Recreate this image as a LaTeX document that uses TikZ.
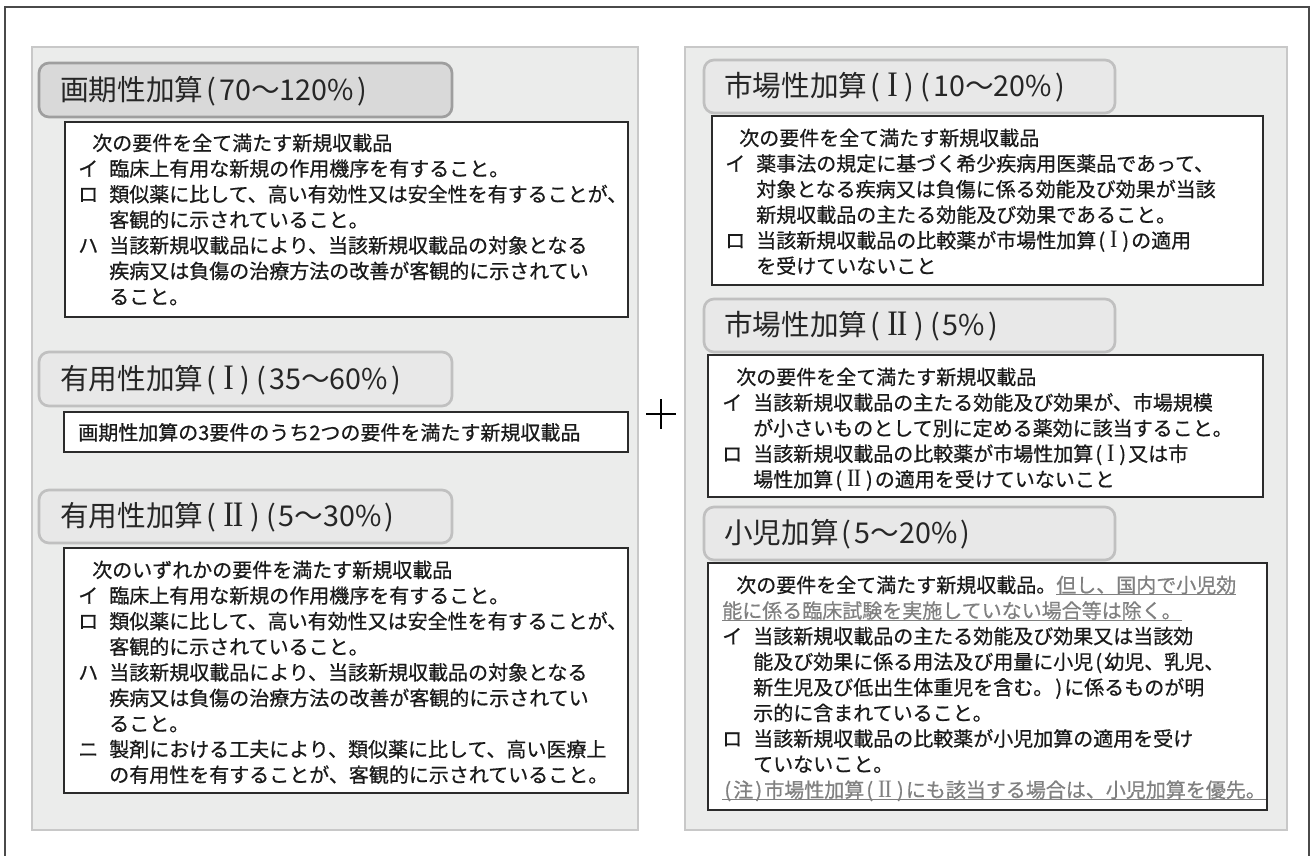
\documentclass[tikz,border=0pt]{standalone}
\usepackage{fontspec}
\setmainfont{Noto Sans CJK JP}
\newfontfamily\bodyfont[RawFeature={embolden=0.6}]{Noto Sans CJK JP}
\newfontfamily\romanfont{Liberation Serif}
\definecolor{panelfill}{HTML}{EBECEB}
\definecolor{panelline}{HTML}{C8C8C8}
\definecolor{titlefill}{HTML}{E8E8E8}
\definecolor{titleline}{HTML}{C0C0C0}
\definecolor{titlefillA}{HTML}{D9D9D9}
\definecolor{titlelineA}{HTML}{9E9E9E}
\definecolor{boxline}{HTML}{2B2B2B}
\definecolor{bodycol}{HTML}{1A1A1A}
\definecolor{titlecol}{HTML}{262626}
\definecolor{notegray}{HTML}{808080}
\definecolor{framecol}{HTML}{4A4A4A}
\newcommand{\jmk}[1]{\makebox[23.25pt][l]{#1}}
\newcommand{\jind}{\makebox[23.25pt]{}}
\newcommand{\jlead}{\makebox[10.5pt]{}}
\newcommand{\lp}{\makebox[0.55em][c]{(}}
\newcommand{\rp}{\makebox[0.55em][c]{)}}
\newcommand{\rI}{\hspace{0.14em}{\romanfont\scalebox{1.1}[1.25]{I}}\hspace{0.14em}}
\newcommand{\rII}{\hspace{0.14em}{\romanfont\scalebox{1.1}[1.25]{I\kern-0.03em I}}\hspace{0.14em}}
\newcommand{\gul}[1]{\textcolor{notegray}{\setbox0\hbox{#1}\rlap{\rule[-2.2pt]{\wd0}{0.9pt}}\box0}}
\begin{document}
\begin{tikzpicture}[x=0.75pt,y=-0.75pt,
  panel/.style={fill=panelfill, draw=panelline, line width=1.5pt},
  titlebox/.style={fill=titlefill, draw=titleline, line width=2pt, rounded corners=7.5pt},
  titleboxA/.style={titlebox, fill=titlefillA, draw=titlelineA},
  textbox/.style={fill=white, draw=boxline, line width=1.1pt},
  titletext/.style={anchor=base west, inner sep=0pt, font=\fontsize{21.5pt}{25pt}\selectfont, text=titlecol},
  bodytext/.style={anchor=base west, inner sep=0pt, text width=430pt, align=left, font=\bodyfont\fontsize{15pt}{19.2pt}\selectfont, text=bodycol}]
\useasboundingbox (0,0) rectangle (1310,856);
\clip (0,0) rectangle (1310,856);
\fill[white] (0,0) rectangle (1310,856);
% outer frame (bottom edge outside the picture)
\draw[framecol, line width=1.2pt] (5,900) -- (5,7) -- (1309,7) -- (1309,900);
% panels
\draw[panel] (32,47) rectangle (638,830);
\draw[panel] (685,47) rectangle (1287,830);
% plus sign
\node[inner sep=0pt, minimum size=28pt] (plus) at (661,414) {};
\draw[black, line width=2pt] (646,414) -- (676,414) (661,399) -- (661,429);

% ---------- left panel ----------
\draw[titleboxA] (39,63) rectangle (452,117);
\node[titletext] (tL1) at (60,100) {画期性加算\lp 70～120\%\rp};
\draw[textbox] (65,122) rectangle (628,317);
\node[bodytext] (bL1) at (78,150.5) {%
\jlead 次の要件を全て満たす新規収載品\\
\jmk{イ}臨床上有用な新規の作用機序を有すること。\\
\jmk{ロ}類似薬に比して、高い有効性又は安全性を有することが、\\
\jind 客観的に示されていること。\\
\jmk{ハ}当該新規収載品により、当該新規収載品の対象となる\\
\jind 疾病又は負傷の治療方法の改善が客観的に示されてい\\
\jind ること。};

\draw[titlebox] (39,352) rectangle (452,406);
\node[titletext] (tL2) at (60,389) {有用性加算\lp\rI\rp\lp 35～60\%\rp};
\draw[textbox] (64,412) rectangle (628,452);
\node[bodytext] (bL2) at (78,440) {画期性加算の3要件のうち2つの要件を満たす新規収載品};

\draw[titlebox] (39,490) rectangle (452,543);
\node[titletext] (tL3) at (60,526.5) {有用性加算\lp\rII\rp\lp 5～30\%\rp};
\draw[textbox] (64,548) rectangle (628,793);
\node[bodytext] (bL3) at (78,577.5) {%
\jlead 次のいずれかの要件を満たす新規収載品\\
\jmk{イ}臨床上有用な新規の作用機序を有すること。\\
\jmk{ロ}類似薬に比して、高い有効性又は安全性を有することが、\\
\jind 客観的に示されていること。\\
\jmk{ハ}当該新規収載品により、当該新規収載品の対象となる\\
\jind 疾病又は負傷の治療方法の改善が客観的に示されてい\\
\jind ること。\\
\jmk{ニ}製剤における工夫により、類似薬に比して、高い医療上\\
\jind の有用性を有することが、客観的に示されていること。};

% ---------- right panel ----------
\draw[titlebox] (704,60) rectangle (1115,113);
\node[titletext] (tR1) at (724,96.5) {市場性加算\lp\rI\rp\lp 10～20\%\rp};
\draw[textbox] (712,116) rectangle (1263,285);
\node[bodytext] (bR1) at (725,145.5) {%
\jlead 次の要件を全て満たす新規収載品\\
\jmk{イ}薬事法の規定に基づく希少疾病用医薬品であって、\\
\jind 対象となる疾病又は負傷に係る効能及び効果が当該\\
\jind 新規収載品の主たる効能及び効果であること。\\
\jmk{ロ}当該新規収載品の比較薬が市場性加算\lp\rI\rp の適用\\
\jind を受けていないこと};

\draw[titlebox] (704,299) rectangle (1115,352);
\node[titletext] (tR2) at (724,335.5) {市場性加算\lp\rII\rp\lp 5\%\rp};
\draw[textbox] (708,355) rectangle (1263,497);
\node[bodytext] (bR2) at (722,384.5) {%
\jlead 次の要件を全て満たす新規収載品\\
\jmk{イ}当該新規収載品の主たる効能及び効果が、市場規模\\
\jind が小さいものとして別に定める薬効に該当すること。\\
\jmk{ロ}当該新規収載品の比較薬が市場性加算\lp\rI\rp 又は市\\
\jind 場性加算\lp\rII\rp の適用を受けていないこと};

\draw[titlebox] (704,507) rectangle (1115,560);
\node[titletext] (tR3) at (724,543.5) {小児加算\lp 5～20\%\rp};
\draw[textbox] (708,563) rectangle (1267,810);
\node[bodytext] (bR3) at (722,592.5) {%
\jlead 次の要件を全て満たす新規収載品。\gul{但し、国内で小児効}\\
\gul{能に係る臨床試験を実施していない場合等は除く。}\\
\jmk{イ}当該新規収載品の主たる効能及び効果又は当該効\\
\jind 能及び効果に係る用法及び用量に小児\lp 幼児、乳児、\\
\jind 新生児及び低出生体重児を含む。\rp に係るものが明\\
\jind 示的に含まれていること。\\
\jmk{ロ}当該新規収載品の比較薬が小児加算の適用を受け\\
\jind ていないこと。\\
\gul{\lp 注\rp 市場性加算\lp\rII\rp にも該当する場合は、小児加算を優先。}};
\end{tikzpicture}
\end{document}
